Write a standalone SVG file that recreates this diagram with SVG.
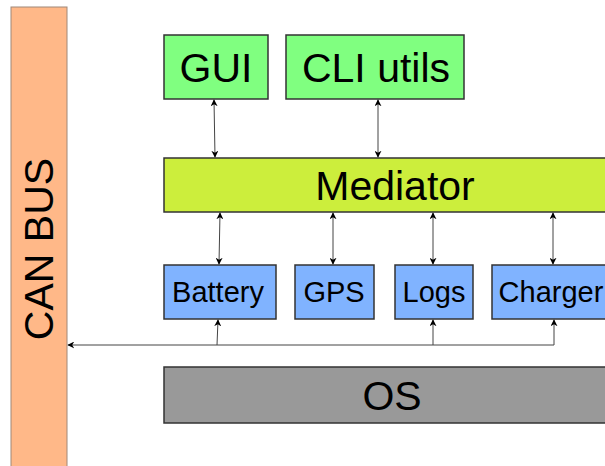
<svg xmlns="http://www.w3.org/2000/svg" width="605" height="466" viewBox="0 0 605 466">
<style>
text{font-family:"Liberation Sans",Arial,sans-serif;fill:#000;text-anchor:middle}
.big{font-size:41px}
.small{font-size:29px}
.box{stroke:#333;stroke-width:1.5}
.green{fill:#80ff80}
.blue{fill:#80b3ff}
.conn{stroke:#444;stroke-width:1;fill:none}
</style>
<defs>
<marker id="ah" viewBox="0 0 10 10" refX="9" refY="5" markerWidth="7" markerHeight="7" orient="auto-start-reverse" markerUnits="userSpaceOnUse">
<path d="M0,0 L10,5 L0,10 L3,5 Z" fill="#000"/>
</marker>
</defs>
<g id="canbus">
<rect x="11" y="7" width="56" height="470" fill="#ffb888" stroke="#a08878" stroke-width="1"/>
<text class="big" transform="translate(53,249) rotate(-90)">CAN BUS</text>
</g>
<g id="gui">
<rect class="box green" x="164" y="35" width="104" height="64"/>
<text class="big" x="216" y="82">GUI</text>
</g>
<g id="cli">
<rect class="box green" x="286" y="35" width="178" height="64"/>
<text class="big" x="376" y="82">CLI utils</text>
</g>
<g id="mediator">
<rect class="box" x="164" y="158" width="450" height="54" fill="#ccee3c"/>
<text class="big" x="395" y="200">Mediator</text>
</g>
<g id="battery">
<rect class="box blue" x="164" y="265" width="112" height="54"/>
<text class="small" x="218" y="302">Battery</text>
</g>
<g id="gps">
<rect class="box blue" x="295" y="265" width="79" height="54"/>
<text class="small" x="334" y="302">GPS</text>
</g>
<g id="logs">
<rect class="box blue" x="395" y="265" width="78" height="54"/>
<text class="small" x="434" y="302">Logs</text>
</g>
<g id="charger">
<rect class="box blue" x="492" y="265" width="130" height="54"/>
<text class="small" x="551" y="302">Charger</text>
</g>
<g id="os">
<rect class="box" x="164" y="367" width="450" height="56" fill="#999999"/>
<text class="big" x="392" y="410">OS</text>
</g>
<g id="connectors">
<line class="conn" x1="214" y1="100" x2="215" y2="157" marker-start="url(#ah)" marker-end="url(#ah)"/>
<line class="conn" x1="378" y1="100" x2="378" y2="157" marker-start="url(#ah)" marker-end="url(#ah)"/>
<line class="conn" x1="220" y1="213" x2="219" y2="264" marker-start="url(#ah)" marker-end="url(#ah)"/>
<line class="conn" x1="333" y1="213" x2="333" y2="264" marker-start="url(#ah)" marker-end="url(#ah)"/>
<line class="conn" x1="433" y1="213" x2="433" y2="264" marker-start="url(#ah)" marker-end="url(#ah)"/>
<line class="conn" x1="553" y1="213" x2="553" y2="264" marker-start="url(#ah)" marker-end="url(#ah)"/>
<polyline class="conn" points="554,320 554,345 68,345" marker-start="url(#ah)" marker-end="url(#ah)"/>
<line class="conn" x1="217" y1="345" x2="218" y2="320" marker-end="url(#ah)"/>
<line class="conn" x1="433" y1="345" x2="433" y2="320" marker-end="url(#ah)"/>
</g>
</svg>
